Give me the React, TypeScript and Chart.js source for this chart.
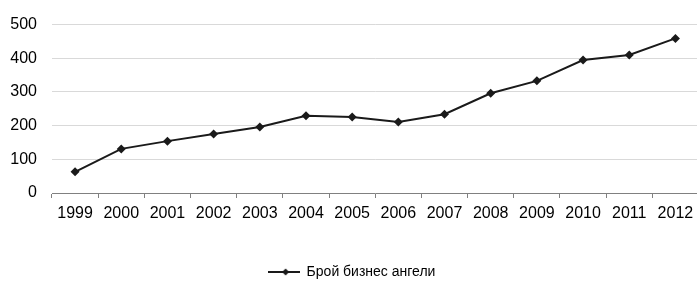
import React, { useEffect, useRef } from "react";
import { Chart, registerables } from "chart.js";

Chart.register(...registerables);

const categories = ["1999", "2000", "2001", "2002", "2003", "2004", "2005", "2006", "2007", "2008", "2009", "2010", "2011", "2012"];
const angels = [63, 131, 154, 175, 196, 229, 226, 211, 234, 296, 333, 395, 410, 459];
const seriesLabel = "Брой бизнес ангели";
const yMin = 0;
const yMax = 500;
const yStep = 100;

function makeLegendIcon(): HTMLCanvasElement {
  const c = document.createElement("canvas");
  c.width = 32;
  c.height = 10;
  const ctx = c.getContext("2d")!;
  ctx.strokeStyle = "#1a1a1a";
  ctx.lineWidth = 2;
  ctx.beginPath();
  ctx.moveTo(0, 5);
  ctx.lineTo(32, 5);
  ctx.stroke();
  ctx.fillStyle = "#1a1a1a";
  ctx.beginPath();
  ctx.moveTo(18, 1.5);
  ctx.lineTo(21.5, 5);
  ctx.lineTo(18, 8.5);
  ctx.lineTo(14.5, 5);
  ctx.closePath();
  ctx.fill();
  return c;
}

export default function App() {
  const ref = useRef<HTMLCanvasElement | null>(null);
  useEffect(() => {
    document.body.style.margin = "0";
    document.body.style.overflow = "hidden";
    const icon = makeLegendIcon();
    const chart = new Chart(ref.current!, {
      type: "line",
      data: {
        labels: categories,
        datasets: [
          {
            label: seriesLabel,
            data: angels,
            borderColor: "#1a1a1a",
            backgroundColor: "#1a1a1a",
            borderWidth: 2,
            pointStyle: "rectRot",
            pointRadius: 4.5,
            pointBorderWidth: 0,
            pointBackgroundColor: "#1a1a1a",
            tension: 0,
          },
        ],
      },
      options: {
        responsive: false,
        animation: false,
        layout: { padding: { top: 22, bottom: -7, left: 0, right: 0 } },
        plugins: {
          tooltip: { enabled: false },
          legend: {
            position: "bottom",
            labels: {
              usePointStyle: true,
              pointStyle: icon as any,
              pointStyleWidth: 32,
              boxHeight: 10,
              padding: 10,
              color: "#000",
              font: { family: "'Liberation Sans', Arial, sans-serif", size: 14 },
              generateLabels: (ch: any) => [
                {
                  text: seriesLabel,
                  pointStyle: icon,
                  fillStyle: "#1a1a1a",
                  strokeStyle: "#1a1a1a",
                  lineWidth: 0,
                  hidden: false,
                  datasetIndex: 0,
                  fontColor: "#000",
                },
              ],
            },
          },
        },
        scales: {
          x: {
            offset: true,
            grid: {
              offset: true,
              drawOnChartArea: false,
              drawTicks: true,
              tickLength: 5,
              color: "#808080",
            },
            border: { display: true, color: "#808080", width: 1 },
            ticks: {
              color: "#000",
              padding: 6,
              maxRotation: 0,
              autoSkip: false,
              font: { family: "'Liberation Sans', Arial, sans-serif", size: 16 },
            },
            afterFit: (s: any) => {
              s.height = 62;
              s.paddingLeft = 0;
              s.paddingRight = 0;
            },
          },
          y: {
            min: yMin,
            max: yMax,
            grid: { color: "#d9d9d9", lineWidth: 1, drawTicks: false },
            border: { display: false },
            ticks: {
              stepSize: yStep,
              padding: 15,
              color: "#000",
              font: { family: "'Liberation Sans', Arial, sans-serif", size: 16 },
            },
            afterFit: (s: any) => {
              s.width = 52;
            },
          },
        },
      },
    });
    return () => chart.destroy();
  }, []);
  return (
    <div style={{ width: 697, height: 282, overflow: "hidden" }}>
      <canvas ref={ref} width={703} height={282} style={{ display: "block" }} />
    </div>
  );
}
